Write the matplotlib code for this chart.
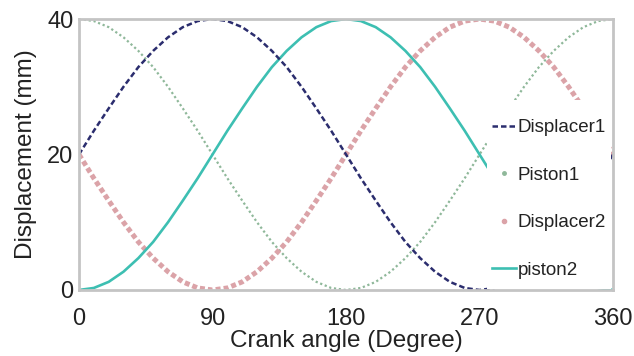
import numpy as np
import matplotlib
matplotlib.use("Agg")
import matplotlib.pyplot as plt
from matplotlib.lines import Line2D
from matplotlib.patches import Rectangle

plt.rcParams['font.family'] = ['Liberation Sans', 'DejaVu Sans']

# crank angle, degrees (10 degree steps)
angle = list(range(0, 361, 10))

displacer1 = [20, 23.5, 26.8, 30, 32.9, 35.3, 37.3, 38.8, 39.7, 40,
              39.7, 38.8, 37.3, 35.3, 32.9, 30, 26.8, 23.5, 20, 16.5,
              13.2, 10, 7.1, 4.7, 2.7, 1.2, 0.3, 0, 0.3, 1.2,
              2.7, 4.7, 7.1, 10, 13.2, 16.5, 20]
piston1 = [40, 39.7, 38.8, 37.3, 35.3, 32.9, 30, 26.8, 23.5, 20,
           16.5, 13.2, 10, 7.1, 4.7, 2.7, 1.2, 0.3, 0, 0.3,
           1.2, 2.7, 4.7, 7.1, 10, 13.2, 16.5, 20, 23.5, 26.8,
           30, 32.9, 35.3, 37.3, 38.8, 39.7, 40]
displacer2 = [20, 16.5, 13.2, 10, 7.1, 4.7, 2.7, 1.2, 0.3, 0,
              0.3, 1.2, 2.7, 4.7, 7.1, 10, 13.2, 16.5, 20, 23.5,
              26.8, 30, 32.9, 35.3, 37.3, 38.8, 39.7, 40, 39.7, 38.8,
              37.3, 35.3, 32.9, 30, 26.8, 23.5, 20]
piston2 = [0, 0.3, 1.2, 2.7, 4.7, 7.1, 10, 13.2, 16.5, 20,
           23.5, 26.8, 30, 32.9, 35.3, 37.3, 38.8, 39.7, 40, 39.7,
           38.8, 37.3, 35.3, 32.9, 30, 26.8, 23.5, 20, 16.5, 13.2,
           10, 7.1, 4.7, 2.7, 1.2, 0.3, 0]

xticks = [0, 90, 180, 270, 360]
yticks = [0, 20, 40]

c_d1 = '#2b2d6e'
c_p1 = '#8fb89a'
c_d2 = '#dba3a8'
c_p2 = '#3dbfb2'

fig = plt.figure(figsize=(6.34, 3.56), dpi=100)
ax = fig.add_axes([0.1246, 0.1854, 0.8424, 0.7612])

ax.plot(angle, piston1, color=c_p1, lw=1.6, ls=(0, (1, 1.2)))
ax.plot(angle, displacer2, color=c_d2, lw=3.6, ls=(0, (1, 0.6)))
ax.plot(angle, piston2, color=c_p2, lw=1.9)
ax.plot(angle, displacer1, color=c_d1, lw=1.8, ls=(0, (2.2, 1.2)))

# white legend panel over the right part of the plot area
ax.add_patch(Rectangle((0.764, 0.004), 0.232, 0.696, transform=ax.transAxes,
                       facecolor='white', edgecolor='none', zorder=2.3))

ax.set_xlim(0, 360)
ax.set_ylim(0, 40)
ax.set_xticks(xticks)
ax.set_yticks(yticks)
ax.tick_params(length=0, labelsize=17, colors='#222222')
ax.tick_params(axis='x', pad=13)
ax.tick_params(axis='y', pad=4)
for s in ax.spines.values():
    s.set_color('#c4c4c4')
    s.set_linewidth(2)
    s.set_zorder(2.6)

ax.set_xlabel('Crank angle (Degree)', fontsize=17.5, color='#222222', labelpad=0)
ax.set_ylabel('Displacement (mm)', fontsize=17.5, color='#222222', labelpad=7)

handles = [
    Line2D([], [], color=c_d1, lw=1.8, ls=(0, (2.2, 1.2))),
    Line2D([], [], color=c_p1, marker='.', ls='none', markersize=5),
    Line2D([], [], color=c_d2, marker='.', ls='none', markersize=6),
    Line2D([], [], color=c_p2, lw=1.9),
]
labels = ['Displacer1', 'Piston1', 'Displacer2', 'piston2']
leg = ax.legend(handles, labels, loc='upper left', bbox_to_anchor=(0.755, 0.665),
                fontsize=13.5, frameon=False, handlelength=1.3, handletextpad=0.1,
                labelspacing=1.62, borderpad=0.5, borderaxespad=0)
leg.set_zorder(5)
for t in leg.get_texts():
    t.set_color('#222222')

fig.savefig('out.png', dpi=100)
